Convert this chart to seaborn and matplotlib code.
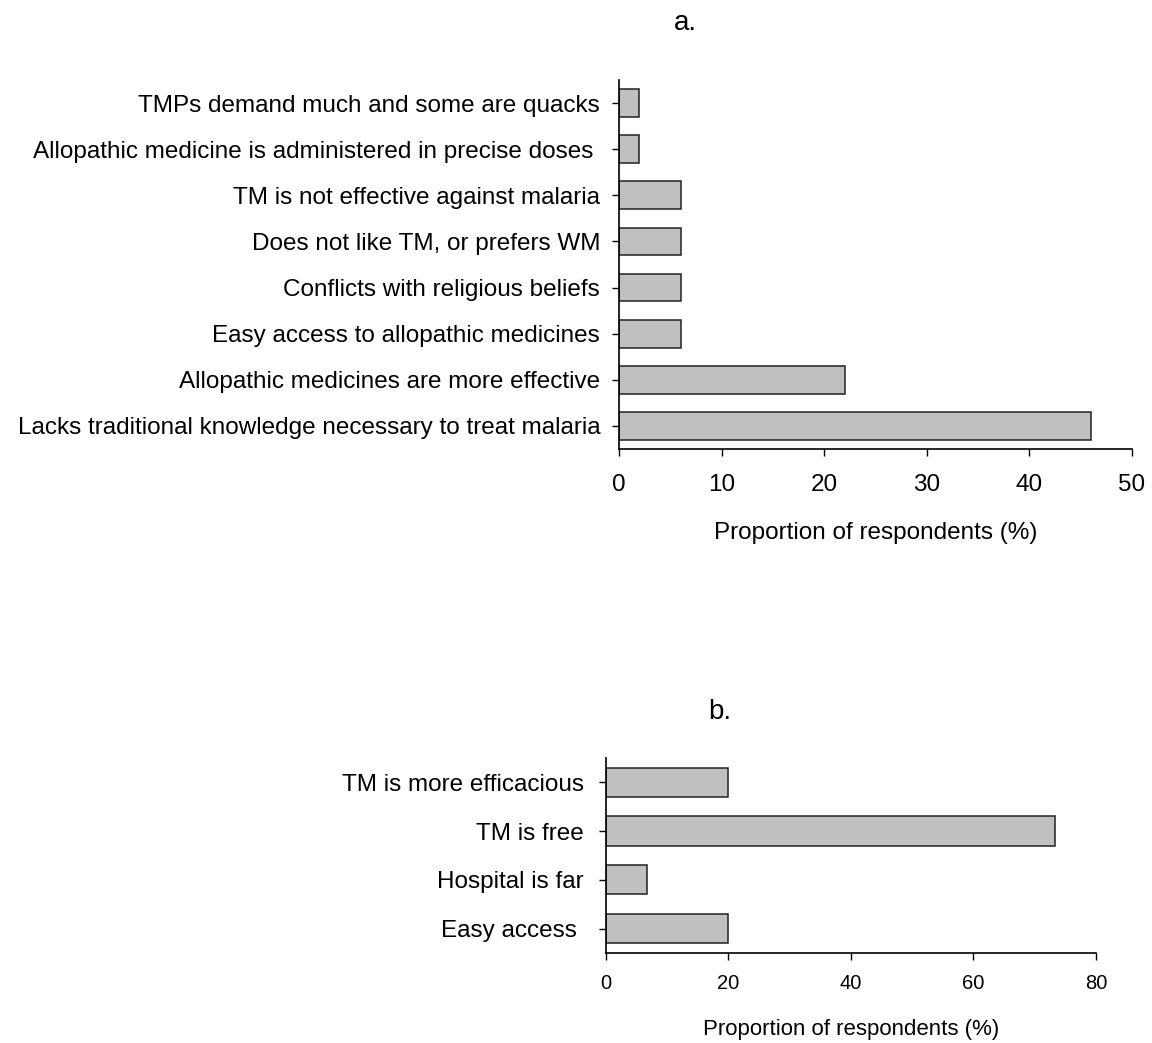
import matplotlib
matplotlib.use("Agg")
import matplotlib.pyplot as plt
import seaborn as sns
import pandas as pd

sns.set_theme(style="white")
plt.rcParams["font.family"] = ["Liberation Sans", "DejaVu Sans"]

# Panel a: reasons for not using traditional medicine
reasons_a = [
    "TMPs demand much and some are quacks",
    "Allopathic medicine is administered in precise doses ",
    "TM is not effective against malaria",
    "Does not like TM, or prefers WM",
    "Conflicts with religious beliefs",
    "Easy access to allopathic medicines",
    "Allopathic medicines are more effective",
    "Lacks traditional knowledge necessary to treat malaria",
]
share_a = [2, 2, 6, 6, 6, 6, 22, 46]
ticks_a = [0, 10, 20, 30, 40, 50]

# Panel b: reasons for using traditional medicine
reasons_b = [
    "TM is more efficacious",
    "TM is free",
    "Hospital is far",
    "Easy access ",
]
share_b = [20, 73.3, 6.7, 20]
ticks_b = [0, 20, 40, 60, 80]

xlabel = "Proportion of respondents (%)"

df_a = pd.DataFrame({"reason": reasons_a, "share": share_a})
df_b = pd.DataFrame({"reason": reasons_b, "share": share_b})

fig = plt.figure(figsize=(11.52, 10.43), dpi=100)
ax_a = fig.add_axes([0.5373, 0.5695, 0.4453, 0.3538])
ax_b = fig.add_axes([0.5260, 0.0863, 0.4253, 0.1870])


def draw(ax, df, ticks, tick_size, ytick_size, ypad, xpad):
    sns.barplot(data=df, x="share", y="reason", orient="h", ax=ax,
                color="#c0c0c0", saturation=1, width=0.6,
                edgecolor="#222222", linewidth=1.1)
    ax.set_xlim(ticks[0], ticks[-1])
    ax.set_xticks(ticks)
    ax.set_xticklabels([str(t) for t in ticks], fontsize=tick_size)
    ax.tick_params(axis="y", labelsize=ytick_size)
    ax.set_ylabel("")
    ax.set_xlabel("")
    for side in ("top", "right"):
        ax.spines[side].set_visible(False)
    for side in ("left", "bottom"):
        ax.spines[side].set_color("black")
        ax.spines[side].set_linewidth(1.2)
    ax.tick_params(axis="both", direction="out", length=5, width=1,
                   color="black", left=True, bottom=True)
    ax.tick_params(axis="y", pad=ypad)
    ax.tick_params(axis="x", pad=xpad)
    for lab in ax.get_xticklabels() + ax.get_yticklabels():
        lab.set_color("black")


draw(ax_a, df_a, ticks_a, 17.5, 17.5, 8.5, 13)
draw(ax_b, df_b, ticks_b, 14.5, 17.5, 11, 10)

fig.text(0.5946, 0.978, "a.", ha="center", va="center", fontsize=20, color="black")
fig.text(0.625, 0.317, "b.", ha="center", va="center", fontsize=20, color="black")
fig.text(876 / 1152, 1 - 533 / 1043, xlabel, ha="center", va="center",
         fontsize=17.5, color="black")
fig.text(851 / 1152, 1 - 1030 / 1043, xlabel, ha="center", va="center",
         fontsize=16, color="black")

fig.savefig("out.png", dpi=100, facecolor="white")
